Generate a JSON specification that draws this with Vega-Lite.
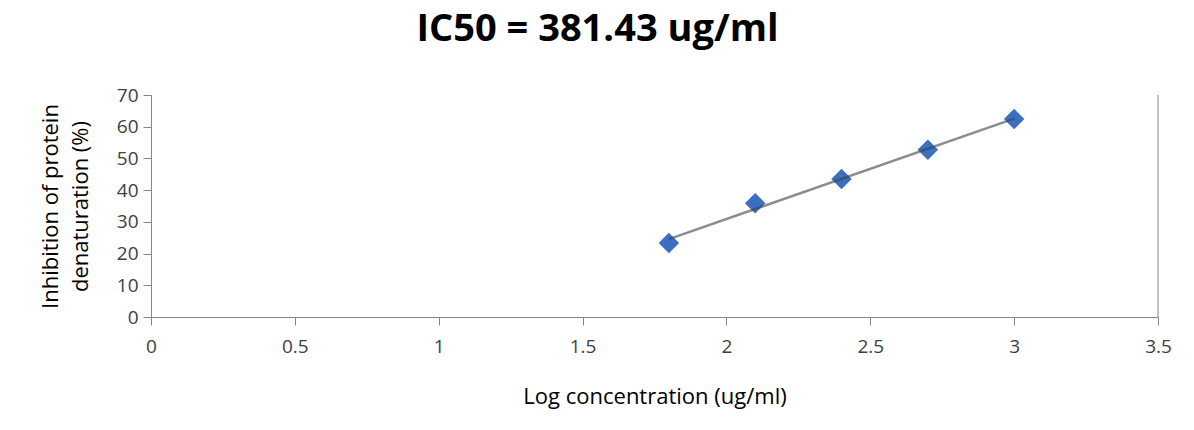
{
  "$schema": "https://vega.github.io/schema/vega-lite/v6.json",
  "width": 1007,
  "height": 222,
  "autosize": {"type": "none"},
  "padding": {"left": 151, "top": 95, "right": 36, "bottom": 113},
  "background": "white",
  "config": {
    "view": {"stroke": null},
    "font": "Open Sans"
  },
  "title": {"text": "IC50 = 381.43 ug/ml", "fontSize": 38, "fontWeight": "bold", "font": "Open Sans", "color": "#000000", "offset": 37, "anchor": "middle", "dx": -57},
  "data": {"values": [
    {"logc": 1.8, "inhibition": 23.3},
    {"logc": 2.1, "inhibition": 35.9},
    {"logc": 2.4, "inhibition": 43.5},
    {"logc": 2.7, "inhibition": 52.7},
    {"logc": 3.0, "inhibition": 62.4}
  ]},
  "encoding": {
    "x": {"field": "logc", "type": "quantitative", "scale": {"domain": [0, 3.5], "nice": false, "zero": true},
      "axis": {"title": "Log concentration (ug/ml)", "titleFont": "Open Sans", "titleFontWeight": "normal", "titleColor": "#000000", "titleFontSize": 22, "tickCount": 8, "format": "~g", "labelFont": "Open Sans", "labelFontSize": 19, "labelColor": "#404040", "labelOverlap": false, "labelPadding": 12, "titlePadding": 30, "labelFlush": false, "grid": false, "domainColor": "#868686", "tickColor": "#868686", "tickSize": 8}},
    "y": {"field": "inhibition", "type": "quantitative", "scale": {"domain": [0, 70], "nice": false},
      "axis": {"title": ["Inhibition of protein", "denaturation (%)"], "titleFont": "Open Sans", "titleFontWeight": "normal", "titleColor": "#000000", "titleFontSize": 22, "titleLineHeight": 30, "tickCount": 7, "labelFont": "Open Sans", "labelFontSize": 19, "labelColor": "#404040", "labelOverlap": false, "labelPadding": 5, "titlePadding": 24, "grid": false, "domainColor": "#868686", "tickColor": "#868686", "tickSize": 8}}
  },
  "layer": [
    {
      "mark": {"type": "point", "shape": "diamond", "filled": true, "color": "#3b6fc4", "size": 420, "opacity": 1}
    },
    {
      "transform": [{"regression": "inhibition", "on": "logc", "method": "linear"}],
      "mark": {"type": "line", "color": "#404040", "opacity": 0.6, "strokeWidth": 2.5}
    },
    {
      "mark": {"type": "rule", "color": "#c0c0c0", "strokeWidth": 1},
      "encoding": {
        "x": {"datum": 3.5, "type": "quantitative"},
        "y": {"datum": 0, "type": "quantitative"},
        "y2": {"datum": 70}
      }
    }
  ]
}
